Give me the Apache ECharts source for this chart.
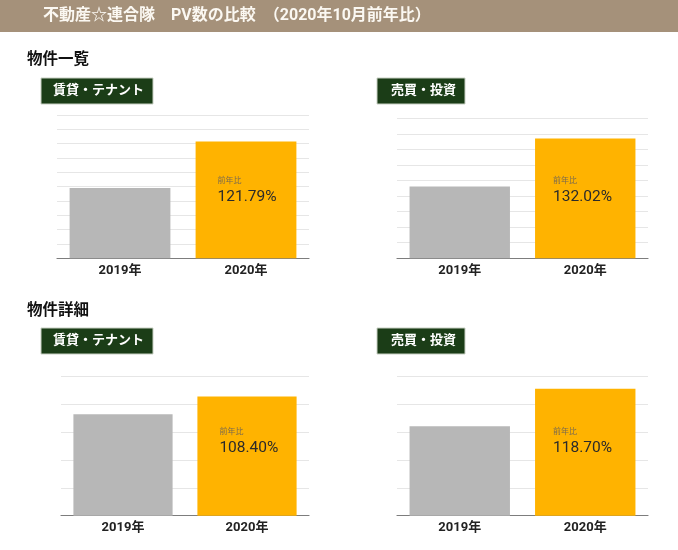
<!DOCTYPE html>
<html>
<head>
	<meta charset="UTF-8">
	<script type="text/javascript" src="https://cdn.jsdelivr.net/npm/echarts@6/dist/echarts.min.js"></script>
	<title>PV数の比較</title>
	<style type="text/css">
		html, body{
			margin:0;
			padding:0;
			background:#fff;
		}
		#chart_box{
			width:678px;
			height:550px;
		}
	</style>
</head>
<body>
<div id="chart_box"></div>
<script type="text/javascript">
// データ
var categories = ['2019年', '2020年'];
var listRentPV = [14900, 18150];    // 物件一覧 賃貸・テナント
var listSalePV = [9620, 12700];     // 物件一覧 売買・投資
var detailRentPV = [7630, 8270];    // 物件詳細 賃貸・テナント
var detailSalePV = [7200, 8547];    // 物件詳細 売買・投資
var ratioLabels = ['121.79%', '132.02%', '108.40%', '118.70%'];
var panelNames = ['賃貸・テナント', '売買・投資', '賃貸・テナント', '売買・投資'];
var sectionNames = ['物件一覧', '物件詳細'];
var titleText = '不動産☆連合隊　PV数の比較　（2020年10月前年比）';

var barColors = ['#b7b7b7', '#ffb300'];
var fontFamily = 'Roboto, "Noto Sans CJK JP", sans-serif';

// 各グラフの配置
var panels = [
	{values: listRentPV,   grid: {left: 57,  right: 369, top: 115,   bottom: 291.7}, min: 10000, max: 20000, labelPos: [22, 33.5]},
	{values: listSalePV,   grid: {left: 397, right: 30,  top: 118.3, bottom: 291.7}, min: 5000,  max: 14000, labelPos: [18, 36.5]},
	{values: detailRentPV, grid: {left: 61,  right: 369, top: 376,   bottom: 34.3},  min: 4000,  max: 9000,  labelPos: [22, 29.3]},
	{values: detailSalePV, grid: {left: 397, right: 30,  top: 376,   bottom: 34.3},  min: 4000,  max: 9000,  labelPos: [18, 37]}
];

echarts.dispose(document.getElementById('chart_box'));
var myChart = echarts.init(document.getElementById('chart_box'));

var grids = [], xAxes = [], yAxes = [], series = [];
panels.forEach(function(p, k){
	grids.push(p.grid);
	xAxes.push({
		type: 'category',
		gridIndex: k,
		data: categories,
		axisTick: {show: false},
		axisLine: {lineStyle: {color: '#7d7d7d', width: 1.2}},
		axisLabel: {color: '#222', fontSize: 13, fontWeight: 'bold', fontFamily: fontFamily, margin: 6}
	});
	yAxes.push({
		type: 'value',
		gridIndex: k,
		min: p.min,
		max: p.max,
		interval: 1000,
		axisLabel: {show: false},
		axisLine: {show: false},
		axisTick: {show: false},
		splitLine: {lineStyle: {color: '#e6e6e6', width: 1}}
	});
	series.push({
		type: 'bar',
		xAxisIndex: k,
		yAxisIndex: k,
		barCategoryGap: '20%',
		silent: true,
		data: p.values.map(function(v, i){
			return {
				value: v,
				itemStyle: {color: barColors[i]},
				label: {
					show: i === 1,
					position: p.labelPos,
					formatter: '{a|前年比}\n{b|' + ratioLabels[k] + '}',
					rich: {
						a: {fontSize: 8, lineHeight: 12, color: '#7a6a4f', fontFamily: fontFamily},
						b: {fontSize: 15.5, lineHeight: 20, color: '#2a2a2a', fontFamily: fontFamily}
					}
				}
			};
		})
	});
});

// 見出しとラベル
var graphics = [
	{type: 'rect', left: 0, top: 0, shape: {width: 678, height: 32}, style: {fill: '#a5917a'}},
	{type: 'text', x: 43, y: 16, style: {text: titleText, fill: '#fbf8f2', font: 'bold 16px ' + fontFamily, verticalAlign: 'middle'}},
	{type: 'text', x: 27, y: 60, style: {text: sectionNames[0], fill: '#111', font: 'bold 15.5px ' + fontFamily, verticalAlign: 'middle'}},
	{type: 'text', x: 27, y: 311.5, style: {text: sectionNames[1], fill: '#111', font: 'bold 15.5px ' + fontFamily, verticalAlign: 'middle'}}
];
var boxes = [
	{x: 41,  y: 78,  w: 112, tx: 53},
	{x: 377, y: 78,  w: 88,  tx: 391},
	{x: 41,  y: 328, w: 112, tx: 53},
	{x: 377, y: 328, w: 88,  tx: 391}
];
boxes.forEach(function(b, k){
	graphics.push({type: 'rect', shape: {x: b.x, y: b.y, width: b.w, height: 26}, style: {fill: '#1b3d17', stroke: '#c8d0c3', lineWidth: 1}});
	graphics.push({type: 'text', x: b.tx, y: b.y + 13, style: {text: panelNames[k], fill: '#fff', font: 'bold 13px ' + fontFamily, verticalAlign: 'middle'}});
});

option = {
	animation: false,
	grid: grids,
	xAxis: xAxes,
	yAxis: yAxes,
	series: series,
	graphic: graphics
};
myChart.setOption(option);
</script>
</body>
</html>
